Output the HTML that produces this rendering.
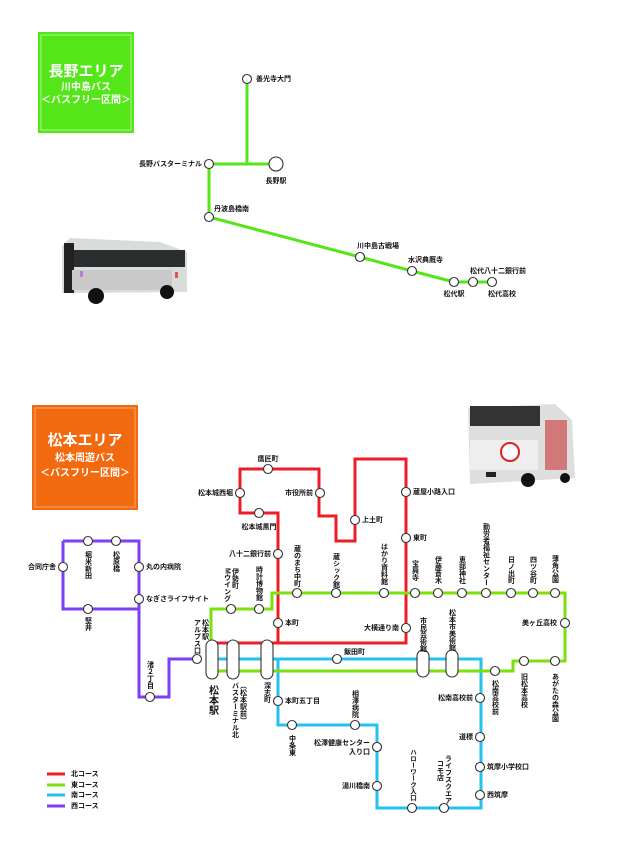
<!DOCTYPE html>
<html><head><meta charset="utf-8"><style>
body{margin:0;background:#fff;}
svg{display:block;font-family:"Liberation Sans","Noto Sans CJK JP",sans-serif;font-weight:bold;}
.v{writing-mode:vertical-rl;font-size:7px;fill:#111;}
.h{font-size:7px;fill:#111;}
</style></head><body>
<svg width="620" height="858" viewBox="0 0 620 858" xmlns="http://www.w3.org/2000/svg">
<rect x="38" y="32" width="96" height="101" fill="#55e619"/>
<rect x="41" y="35" width="90" height="95" fill="none" stroke="#c8f5b0" stroke-width="0.8"/>
<text x="86" y="76" text-anchor="middle" font-size="15" fill="#fff">長野エリア</text>
<text x="86" y="90" text-anchor="middle" font-size="10" fill="#fff">川中島バス</text>
<text x="86" y="103" text-anchor="middle" font-size="10" fill="#fff">＜バスフリー区間＞</text>
<g stroke="#55e619" stroke-width="3" fill="none">
<polyline points="247,79 247,164"/>
<polyline points="276,164 209,164 209,217 360,257 412,271 454,282 492,282"/>
</g>
<g fill="#fff" stroke="#333" stroke-width="1.1">
<circle cx="247" cy="79" r="4.5"/><circle cx="209" cy="164" r="4.5"/><circle cx="276" cy="164" r="7"/>
<circle cx="209" cy="217" r="4.5"/><circle cx="360" cy="257" r="4.5"/><circle cx="412" cy="271" r="4.5"/>
<circle cx="454" cy="282" r="4.5"/><circle cx="473" cy="282" r="4.5"/><circle cx="492" cy="282" r="4.5"/>
</g>
<g>
<text x="256" y="81" class="h">善光寺大門</text>
<text x="202" y="166" text-anchor="end" class="h">長野バスターミナル</text>
<text x="276" y="183" text-anchor="middle" class="h">長野駅</text>
<text x="214" y="211" class="h">丹波島橋南</text>
<text x="357" y="248" class="h">川中島古戦場</text>
<text x="408" y="262" class="h">水沢典厩寺</text>
<text x="470" y="273" class="h">松代八十二銀行前</text>
<text x="454" y="296" text-anchor="middle" class="h">松代駅</text>
<text x="502" y="296" text-anchor="middle" class="h">松代高校</text>
</g>
<g>
<path d="M62,246 L70,238 L160,242 L187,252 L187,292 L62,293 Z" fill="#d9dcd8"/>
<rect x="64" y="250" width="121" height="17" fill="#2a2e2e"/>
<rect x="64" y="243" width="10" height="50" fill="#222"/>
<rect x="72" y="270" width="100" height="20" fill="#c9c9c9"/>
<circle cx="96" cy="296" r="8" fill="#111"/><circle cx="167" cy="292" r="7" fill="#111"/>
<rect x="80" y="271" width="3" height="6" fill="#b57fd8"/><rect x="175" y="272" width="3" height="6" fill="#d55"/>
</g>
<rect x="32" y="405" width="106" height="105" fill="#f26a0f"/>
<rect x="35" y="408" width="100" height="99" fill="none" stroke="#f8b48a" stroke-width="0.8"/>
<text x="85" y="445" text-anchor="middle" font-size="15" fill="#fff">松本エリア</text>
<text x="85" y="461" text-anchor="middle" font-size="10" fill="#fff">松本周遊バス</text>
<text x="85" y="476" text-anchor="middle" font-size="10" fill="#fff">＜バスフリー区間＞</text>
<g>
<path d="M468,408 L555,404 L572,420 L575,478 L470,484 Z" fill="#dedede"/>
<rect x="470" y="406" width="70" height="20" fill="#333"/>
<rect x="470" y="440" width="68" height="30" fill="#eee"/>
<circle cx="510" cy="452" r="9" fill="#fff" stroke="#d22" stroke-width="2"/>
<rect x="545" y="420" width="22" height="50" fill="#c33" opacity="0.6"/>
<circle cx="528" cy="480" r="7" fill="#111"/><circle cx="565" cy="478" r="5" fill="#111"/>
<rect x="486" y="472" width="10" height="5" fill="#222"/>
</g>
<g fill="none" stroke-width="3">
<polyline stroke="#7b3ff5" points="63,541 139,541 139,697 150,697 169,697 169,659 197,659"/>
<polyline stroke="#7b3ff5" points="139,609 63,609 63,541"/>
<polyline stroke="#ee1c25" points="212,643 406,643 406,459 355,459 355,541 336,541 336,516 319,516 319,469 240,469 240,513 278,513 278,643"/>
<polyline stroke="#25c1ef" points="212,659 481,659 481,808 377,808 377,725 278,725 278,659"/>
<polyline stroke="#7ae10c" points="211,640 211,609 272,609 272,593 565,593 565,661 513,661 513,671 212,671"/>
</g>
<g fill="#fff" stroke="#333" stroke-width="1.1">
<rect x="206" y="640" width="12" height="39" rx="6"/>
<rect x="227" y="640" width="12" height="39" rx="6"/>
<rect x="261" y="640" width="12" height="39" rx="6"/>
<rect x="417" y="650" width="12" height="27" rx="6"/>
<rect x="446" y="650" width="12" height="27" rx="6"/>
</g>
<g fill="#fff" stroke="#333" stroke-width="1.1">
<circle cx="63" cy="567" r="4.5"/><circle cx="88" cy="541" r="4.5"/><circle cx="116" cy="541" r="4.5"/>
<circle cx="139" cy="567" r="4.5"/><circle cx="139" cy="599" r="4.5"/><circle cx="88" cy="609" r="4.5"/>
<circle cx="150" cy="697" r="4.5"/><circle cx="197" cy="659" r="4.5"/>
<circle cx="268" cy="469" r="4.5"/><circle cx="240" cy="493" r="4.5"/><circle cx="320" cy="493" r="4.5"/>
<circle cx="259" cy="513" r="4.5"/><circle cx="278" cy="554" r="4.5"/><circle cx="278" cy="623" r="4.5"/>
<circle cx="355" cy="520" r="4.5"/><circle cx="406" cy="492" r="4.5"/><circle cx="406" cy="538" r="4.5"/><circle cx="406" cy="628" r="4.5"/>
<circle cx="231" cy="609" r="4.5"/><circle cx="259" cy="609" r="4.5"/><circle cx="297" cy="593" r="4.5"/>
<circle cx="336" cy="593" r="4.5"/><circle cx="384" cy="593" r="4.5"/><circle cx="415" cy="593" r="4.5"/>
<circle cx="438" cy="593" r="4.5"/><circle cx="462" cy="593" r="4.5"/><circle cx="486" cy="593" r="4.5"/>
<circle cx="511" cy="593" r="4.5"/><circle cx="533" cy="593" r="4.5"/><circle cx="555" cy="593" r="4.5"/>
<circle cx="565" cy="623" r="4.5"/><circle cx="555" cy="661" r="4.5"/><circle cx="524" cy="661" r="4.5"/><circle cx="495" cy="671" r="4.5"/>
<circle cx="337" cy="659" r="4.5"/>
<circle cx="278" cy="701" r="4.5"/><circle cx="292" cy="725" r="4.5"/><circle cx="355" cy="725" r="4.5"/>
<circle cx="377" cy="747" r="4.5"/><circle cx="377" cy="786" r="4.5"/><circle cx="412" cy="808" r="4.5"/><circle cx="444" cy="808" r="4.5"/>
<circle cx="480" cy="795" r="4.5"/><circle cx="480" cy="767" r="4.5"/><circle cx="480" cy="737" r="4.5"/><circle cx="480" cy="698" r="4.5"/>
</g>
<g class="h">
<text x="268" y="461" text-anchor="middle">鷹匠町</text>
<text x="233" y="495" text-anchor="end">松本城西堀</text>
<text x="313" y="495" text-anchor="end">市役所前</text>
<text x="259" y="529" text-anchor="middle">松本城黒門</text>
<text x="271" y="556" text-anchor="end">八十二銀行前</text>
<text x="285" y="625">本町</text>
<text x="362" y="522">上土町</text>
<text x="413" y="494">蔵屋小路入口</text>
<text x="413" y="540">東町</text>
<text x="399" y="630" text-anchor="end">大横通り南</text>
<text x="344" y="654">飯田町</text>
<text x="557" y="625" text-anchor="end">美ヶ丘高校</text>
<text x="56" y="569" text-anchor="end">合同庁舎</text>
<text x="146" y="569">丸の内病院</text>
<text x="146" y="601">なぎさライフサイト</text>
<text x="285" y="703">本町五丁目</text>
<text x="370" y="745" text-anchor="end">松澤健康センター</text>
<text x="370" y="754" text-anchor="end">入り口</text>
<text x="370" y="788" text-anchor="end">湯川橋南</text>
<text x="473" y="700" text-anchor="end">松南高校前</text>
<text x="473" y="739" text-anchor="end">道標</text>
<text x="487" y="769">筑摩小学校口</text>
<text x="487" y="797">西筑摩</text>
</g>
<g class="v">
<text x="88" y="551">堀米新田</text>
<text x="116" y="551">松原橋</text>
<text x="88" y="617">堅井</text>
<text x="150" y="661">渚２丁目</text>
<text x="205" y="619">松本駅</text>
<text x="197" y="619">アルプス口</text>
<text x="235" y="568">伊勢町</text>
<text x="227" y="568">Mウイング</text>
<text x="259" y="566">時計博物館</text>
<text x="297" y="545">蔵のまち中町</text>
<text x="336" y="553">蔵シック館</text>
<text x="384" y="543">はかり資料館</text>
<text x="415" y="560">宝興寺</text>
<text x="438" y="556">伊藤蒼木</text>
<text x="462" y="556">恵部神社</text>
<text x="486" y="523">勤労者福祉センター</text>
<text x="511" y="556">日ノ出町</text>
<text x="533" y="556">四ツ谷町</text>
<text x="555" y="555">薄角公園</text>
<text x="423" y="617">市民芸術館</text>
<text x="452" y="609">松本市美術館</text>
<text x="212" y="685" style="font-size:10px">松本駅</text>
<text x="235" y="682">バスターミナル北</text>
<text x="243" y="682">（松本駅前）</text>
<text x="267" y="682">深志町</text>
<text x="355" y="690">相澤病院</text>
<text x="292" y="735">中条東</text>
<text x="412" y="749" style="font-size:6.5px">ハローワーク入口</text>
<text x="448" y="755">ライフスクエア</text>
<text x="440" y="760">コモ店</text>
<text x="495" y="680">松南高校前</text>
<text x="524" y="673">旧松本高校</text>
<text x="555" y="673">あがたの森公園</text>
</g>
<g stroke-width="3">
<line x1="47" y1="774" x2="65" y2="774" stroke="#ee1c25"/>
<line x1="47" y1="785" x2="65" y2="785" stroke="#7ae10c"/>
<line x1="47" y1="795" x2="65" y2="795" stroke="#25c1ef"/>
<line x1="47" y1="806" x2="65" y2="806" stroke="#7b3ff5"/>
</g>
<g>
<text x="71" y="776" class="h">北コース</text>
<text x="71" y="787" class="h">東コース</text>
<text x="71" y="797" class="h">南コース</text>
<text x="71" y="808" class="h">西コース</text>
</g>
</svg>
</body></html>
